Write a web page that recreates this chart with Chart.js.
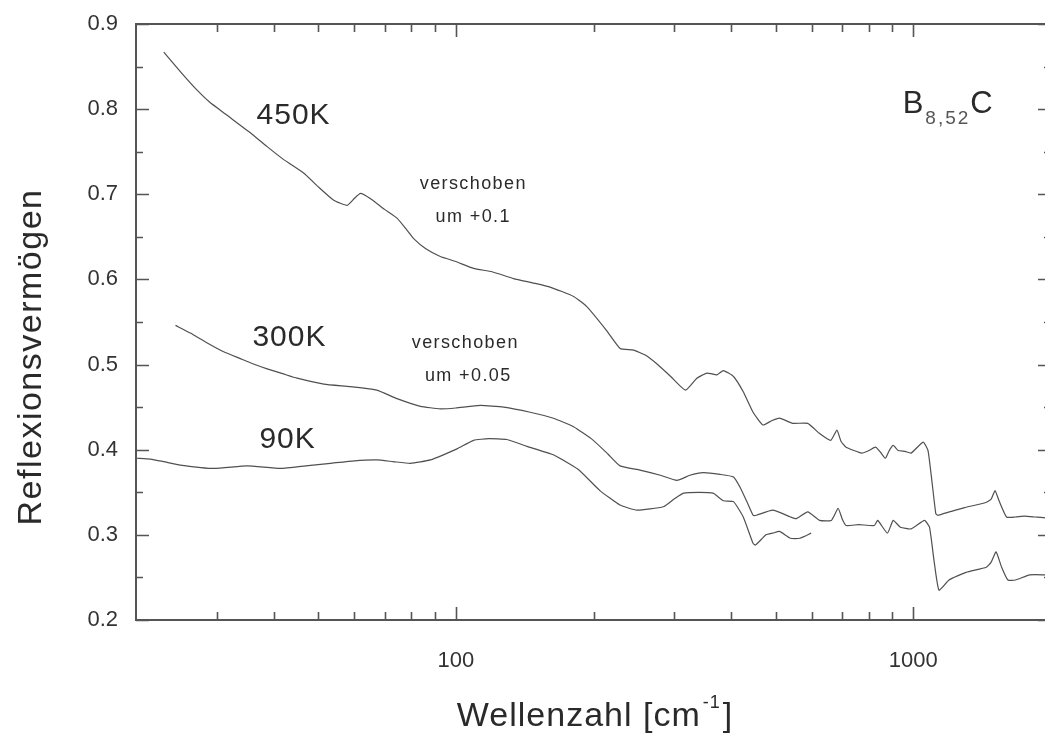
<!DOCTYPE html>
<html lang="de">
  <head>
    <meta charset="UTF-8" />
    <title>Reflexionsvermögen B8,52C</title>
    <script src="https://cdn.jsdelivr.net/npm/chart.js"></script>
    <style>
      html,
      body {
        margin: 0;
        padding: 0;
        background: #fff;
        overflow: hidden;
      }
      #wrap {
        position: absolute;
        left: 0;
        top: 0;
        width: 1060px;
        height: 733px;
      }
    </style>
  </head>
  <body>
    <div id="wrap">
      <canvas id="refl-chart" width="1060" height="733"></canvas>
    </div>

    <script>
      // 450K (verschoben um +0.1)
      const wn450 = [
        23, 25, 27, 29, 31.6, 33.8, 36, 38.7, 42, 46.5, 50, 54.1, 57.9, 60,
        61.9, 65, 70, 74.4, 78.2, 80.9, 86, 92.5, 100, 109.4, 120, 133.8, 147,
        160.8, 180.9, 193.4, 213.6, 228.7, 244.6, 260, 275, 295, 317.8, 336.5,
        353.9, 372.3, 384.6, 404.6, 425, 446.5, 469.2, 490, 510, 545, 588, 624,
        660, 681, 695, 713, 772, 800, 827, 848, 869, 886, 904, 927, 960, 989,
        1051, 1077, 1100, 1120, 1131, 1200, 1294, 1441, 1480, 1509, 1540, 1599,
        1672, 1750, 1847, 1950, 2000,
      ];
      const r450 = [
        0.867, 0.844, 0.824, 0.808, 0.793, 0.781, 0.77, 0.756, 0.741, 0.725,
        0.709, 0.693, 0.687, 0.695, 0.701, 0.695, 0.682, 0.672, 0.658, 0.648,
        0.636, 0.627, 0.621, 0.613, 0.609, 0.601, 0.596, 0.591, 0.58, 0.568,
        0.54, 0.519, 0.517, 0.511, 0.501, 0.486, 0.47, 0.484, 0.49, 0.488,
        0.493, 0.486, 0.468, 0.444, 0.429, 0.434, 0.437, 0.431, 0.431, 0.419,
        0.411, 0.423, 0.41, 0.403, 0.396, 0.399, 0.403, 0.397, 0.39, 0.399,
        0.405, 0.399, 0.398, 0.396, 0.409, 0.399, 0.36, 0.325, 0.323, 0.327,
        0.332, 0.338, 0.342, 0.352, 0.34, 0.321, 0.321, 0.322, 0.321, 0.32,
        0.321,
      ];

      // 300K (verschoben um +0.05)
      const wn300 = [
        24.4, 26.3, 28.5, 31.1, 33.8, 36, 38.7, 42, 45, 51.5, 58.8, 67.2, 74.4,
        83.7, 92.5, 100, 113.1, 127.3, 145.4, 163.4, 180.9, 199.8, 215, 228.6,
        252.7, 280, 304.4, 325, 347.4, 378.2, 404.6, 418.2, 432, 446.5, 454,
        493, 539, 555, 588, 624, 662, 685, 700, 713, 760, 822, 836, 878, 904,
        937, 989, 1058, 1085, 1110, 1138, 1197, 1305, 1444, 1480, 1517, 1560,
        1610, 1672, 1797, 1950, 2000,
      ];
      const r300 = [
        0.546, 0.537, 0.526, 0.515, 0.507, 0.501, 0.495, 0.489, 0.484, 0.477,
        0.474, 0.47, 0.46, 0.451, 0.448, 0.449, 0.452, 0.45, 0.444, 0.437,
        0.427, 0.411, 0.395, 0.381, 0.376, 0.37, 0.364, 0.37, 0.373, 0.371,
        0.368, 0.356, 0.34, 0.323, 0.323, 0.329, 0.321, 0.319, 0.327, 0.317,
        0.317, 0.331, 0.318, 0.311, 0.312, 0.311, 0.317, 0.302, 0.317, 0.309,
        0.307, 0.317, 0.309, 0.27, 0.235, 0.247, 0.256, 0.262, 0.268, 0.28,
        0.262, 0.247, 0.247, 0.253, 0.253, 0.253,
      ];

      // 90K
      const wn90 = [
        20.1, 21.5, 23, 25, 29.6, 35, 41.4, 47, 53.2, 60, 67.2, 73, 79.6, 88,
        100.6, 109.4, 118, 129.3, 143, 163.4, 185, 206.6, 228.6, 248.7, 284.2,
        300, 314.8, 340, 365.1, 384.6, 404.6, 425, 446.5, 452, 476.6, 493, 510,
        539, 565, 598,
      ];
      const r90 = [
        0.39, 0.389, 0.386, 0.382, 0.378, 0.381, 0.378, 0.381, 0.384, 0.387,
        0.388, 0.386, 0.384, 0.388, 0.401, 0.411, 0.413, 0.412, 0.404, 0.394,
        0.377, 0.352, 0.335, 0.329, 0.333, 0.342, 0.349, 0.35, 0.349, 0.34,
        0.339, 0.321, 0.29, 0.288, 0.3, 0.302, 0.304, 0.296, 0.296, 0.302,
      ];

      // axis ticks
      const xTickLabels = [100, 1000];
      const xMinorTicks = [
        30, 40, 50, 60, 70, 80, 90, 200, 300, 400, 500, 600, 700, 800, 900,
      ];
      const yTickLabels = [0.2, 0.3, 0.4, 0.5, 0.6, 0.7, 0.8, 0.9];
      const yMinorTicks = [0.25, 0.35, 0.45, 0.55, 0.65, 0.75, 0.85];

      const FONT = '"Liberation Sans", Arial, Helvetica, sans-serif';
      const LINE = "#505050";

      // text placed in data coordinates
      const notes = [
        { text: "450K", x: 44.2, y: 0.792, size: 30, spacing: 1 },
        { text: "300K", x: 43.3, y: 0.531, size: 30, spacing: 1 },
        { text: "90K", x: 42.9, y: 0.412, size: 30, spacing: 1 },
        { text: "verschoben", x: 109.2, y: 0.712, size: 18, spacing: 1.4 },
        { text: "um +0.1", x: 109.2, y: 0.673, size: 18, spacing: 1.4 },
        { text: "verschoben", x: 104.9, y: 0.525, size: 18, spacing: 1.4 },
        { text: "um +0.05", x: 106.5, y: 0.486, size: 18, spacing: 1.4 },
      ];

      function toPoints(xs, ys) {
        return xs.map((x, i) => ({ x: x, y: ys[i] }));
      }

      // frame, inward ticks, titles and notes
      const decorPlugin = {
        id: "decor",
        afterDraw(chart) {
          const ctx = chart.ctx;
          const a = chart.chartArea;
          const xs = chart.scales.x;
          const ys = chart.scales.y;
          ctx.save();

          ctx.strokeStyle = "#555";
          ctx.lineWidth = 2;
          ctx.strokeRect(a.left, a.top, a.right - a.left, a.bottom - a.top);

          ctx.lineWidth = 1.6;
          ctx.beginPath();
          xTickLabels.concat(xMinorTicks).forEach((v) => {
            const px = Math.round(xs.getPixelForValue(v)) + 0.5;
            const len = xTickLabels.includes(v) ? 13 : 8;
            ctx.moveTo(px, a.bottom);
            ctx.lineTo(px, a.bottom - len);
            ctx.moveTo(px, a.top);
            ctx.lineTo(px, a.top + len);
          });
          yTickLabels.concat(yMinorTicks).forEach((v) => {
            const py = Math.round(ys.getPixelForValue(v)) + 0.5;
            const len = yTickLabels.includes(v) ? 13 : 7;
            ctx.moveTo(a.left, py);
            ctx.lineTo(a.left + len, py);
            ctx.moveTo(a.right, py);
            ctx.lineTo(a.right - len, py);
          });
          ctx.stroke();

          ctx.fillStyle = "#2a2a2a";
          ctx.textAlign = "center";
          ctx.textBaseline = "middle";
          notes.forEach((n) => {
            ctx.font = n.size + "px " + FONT;
            ctx.letterSpacing = n.spacing + "px";
            ctx.fillText(
              n.text,
              xs.getPixelForValue(n.x),
              ys.getPixelForValue(n.y)
            );
          });

          // B8,52C
          ctx.textAlign = "left";
          ctx.textBaseline = "alphabetic";
          ctx.letterSpacing = "0px";
          let bx = xs.getPixelForValue(948);
          const by = ys.getPixelForValue(0.795);
          ctx.font = "31px " + FONT;
          ctx.fillText("B", bx, by);
          bx += ctx.measureText("B").width + 2;
          ctx.font = "19px " + FONT;
          ctx.fillStyle = "#555";
          ctx.letterSpacing = "2px";
          ctx.fillText("8,52", bx, by + 11);
          bx += ctx.measureText("8,52").width;
          ctx.fillStyle = "#2a2a2a";
          ctx.letterSpacing = "0px";
          ctx.font = "31px " + FONT;
          ctx.fillText("C", bx, by);

          // x title with superscript
          ctx.letterSpacing = "1px";
          ctx.font = "34px " + FONT;
          const t1 = "Wellenzahl [cm";
          const w1 = ctx.measureText(t1).width;
          ctx.font = "18px " + FONT;
          const w2 = ctx.measureText("-1").width;
          ctx.font = "34px " + FONT;
          const w3 = ctx.measureText("]").width;
          let tx = 595 - (w1 + w2 + w3 + 4) / 2;
          const ty = 726;
          ctx.fillText(t1, tx, ty);
          tx += w1 + 2;
          ctx.font = "18px " + FONT;
          ctx.fillText("-1", tx, ty - 18);
          tx += w2 + 2;
          ctx.font = "34px " + FONT;
          ctx.fillText("]", tx, ty);

          // y title
          ctx.save();
          ctx.translate(32, 357);
          ctx.rotate(-Math.PI / 2);
          ctx.textAlign = "center";
          ctx.textBaseline = "middle";
          ctx.font = "34px " + FONT;
          ctx.letterSpacing = "1.5px";
          ctx.fillText("Reflexionsvermögen", 0, 0);
          ctx.restore();

          ctx.restore();
        },
      };

      const lineStyle = {
        borderColor: LINE,
        borderWidth: 1.2,
        pointRadius: 0,
        fill: false,
        tension: 0.15,
      };

      const ctx = document.getElementById("refl-chart").getContext("2d");
      new Chart(ctx, {
        type: "line",
        data: {
          datasets: [
            Object.assign({ label: "450K", data: toPoints(wn450, r450) }, lineStyle),
            Object.assign({ label: "300K", data: toPoints(wn300, r300) }, lineStyle),
            Object.assign({ label: "90K", data: toPoints(wn90, r90) }, lineStyle),
          ],
        },
        options: {
          responsive: false,
          animation: false,
          layout: { padding: { top: 24, right: 9, left: 0, bottom: 0 } },
          plugins: {
            legend: { display: false },
            tooltip: { enabled: false },
          },
          scales: {
            x: {
              type: "logarithmic",
              min: 20,
              max: 2000,
              grid: { display: false, drawTicks: false },
              border: { display: false },
              afterBuildTicks: (scale) => {
                scale.ticks = xTickLabels.map((v) => ({ value: v }));
              },
              afterFit: (scale) => {
                scale.height = 113;
                scale.paddingLeft = 0;
                scale.paddingRight = 0;
              },
              ticks: {
                autoSkip: false,
                maxRotation: 0,
                padding: 28,
                color: "#333",
                font: { family: FONT, size: 22 },
                callback: (v) => String(v),
              },
            },
            y: {
              min: 0.2,
              max: 0.9,
              grid: { display: false, drawTicks: false },
              border: { display: false },
              afterBuildTicks: (scale) => {
                scale.ticks = yTickLabels.map((v) => ({ value: v }));
              },
              afterFit: (scale) => {
                scale.width = 136;
                scale.paddingTop = 0;
                scale.paddingBottom = 0;
              },
              ticks: {
                padding: 18,
                color: "#333",
                font: { family: FONT, size: 22 },
                callback: (v) => v.toFixed(1),
              },
            },
          },
        },
        plugins: [decorPlugin],
      });
    </script>
  </body>
</html>
